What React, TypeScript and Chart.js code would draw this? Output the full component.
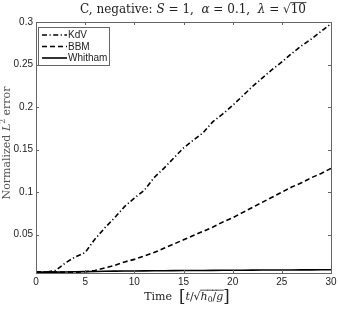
import React, { useEffect, useRef } from "react";
import { Chart, registerables } from "chart.js";

Chart.register(...registerables);

const T = [0, 1, 2, 3, 4, 5, 6, 7, 8, 9, 10, 11, 12, 13, 14, 15, 16, 17, 18, 19, 20, 21, 22, 23, 24, 25, 26, 27, 28, 29, 30];
const KDV = [0.006, 0.006, 0.008, 0.017, 0.024, 0.029, 0.045, 0.058, 0.07, 0.083, 0.093, 0.102, 0.117, 0.128, 0.14, 0.152, 0.161, 0.17, 0.183, 0.192, 0.202, 0.213, 0.224, 0.234, 0.244, 0.253, 0.263, 0.272, 0.28, 0.289, 0.298];
const BBM = [0.006, 0.006, 0.006, 0.006, 0.006, 0.0065, 0.008, 0.011, 0.014, 0.018, 0.021, 0.025, 0.029, 0.034, 0.039, 0.044, 0.049, 0.054, 0.059, 0.065, 0.07, 0.076, 0.082, 0.088, 0.094, 0.1, 0.106, 0.111, 0.117, 0.122, 0.128];
const WHITHAM = [0.006, 0.006, 0.006, 0.0062, 0.0064, 0.0066, 0.0068, 0.007, 0.0072, 0.0073, 0.0074, 0.0075, 0.0076, 0.0077, 0.0078, 0.0079, 0.008, 0.008, 0.0081, 0.0082, 0.0083, 0.0083, 0.0084, 0.0085, 0.0085, 0.0086, 0.0086, 0.0087, 0.0087, 0.0088, 0.0088];
const SERIES_LABELS = ["KdV", "BBM", "Whitham"];
const X_TICKS = [0, 5, 10, 15, 20, 25, 30];
const Y_TICKS = [0.05, 0.1, 0.15, 0.2, 0.25, 0.3];
const Y_TICK_LABELS = ["0.05", "0.1", "0.15", "0.2", "0.25", "0.3"];

type Seg = { t: string; it?: boolean; small?: boolean; dy?: number; over?: boolean; big?: boolean };

const SERIF = '"DejaVu Serif", serif';
const SANS = '"Liberation Sans", Arial, sans-serif';

function drawSegs(ctx: CanvasRenderingContext2D, segs: Seg[], cx: number, cy: number, size: number) {
  const fontFor = (s: Seg) => {
    const sz = s.small ? size * 0.7 : s.big ? size * 1.5 : size;
    return `${s.it ? "italic " : ""}${sz}px ${SERIF}`;
  };
  let total = 0;
  const widths = segs.map((s) => {
    ctx.font = fontFor(s);
    const w = ctx.measureText(s.t).width;
    total += w;
    return w;
  });
  let x = cx - total / 2;
  ctx.textBaseline = "middle";
  ctx.textAlign = "left";
  segs.forEach((s, i) => {
    ctx.font = fontFor(s);
    ctx.fillText(s.t, x, cy + (s.dy || 0));
    if (s.over) {
      ctx.save();
      ctx.lineWidth = 0.8;
      ctx.beginPath();
      ctx.moveTo(x - 0.5, cy - size * 0.62);
      ctx.lineTo(x + widths[i] + 0.5, cy - size * 0.62);
      ctx.stroke();
      ctx.restore();
    }
    x += widths[i];
  });
}

const decor = {
  id: "decor",
  afterDraw(chart: any) {
    const ctx: CanvasRenderingContext2D = chart.ctx;
    const a = chart.chartArea;
    const xs = chart.scales.x;
    const ys = chart.scales.y;
    ctx.save();
    ctx.strokeStyle = "#666";
    ctx.lineWidth = 1;
    ctx.strokeRect(Math.round(a.left) + 0.5, Math.round(a.top) + 0.5, Math.round(a.right - a.left), Math.round(a.bottom - a.top));
    const tl = 3;
    ctx.beginPath();
    X_TICKS.forEach((v) => {
      const px = Math.round(xs.getPixelForValue(v)) + 0.5;
      ctx.moveTo(px, a.bottom);
      ctx.lineTo(px, a.bottom - tl);
      ctx.moveTo(px, a.top);
      ctx.lineTo(px, a.top + tl);
    });
    Y_TICKS.forEach((v) => {
      const py = Math.round(ys.getPixelForValue(v)) + 0.5;
      ctx.moveTo(a.left, py);
      ctx.lineTo(a.left + tl, py);
      ctx.moveTo(a.right, py);
      ctx.lineTo(a.right - tl, py);
    });
    ctx.stroke();

    // legend
    const lx = 38.5, ly = 27.5, lw = 71, lh = 38;
    ctx.fillStyle = "#fff";
    ctx.fillRect(lx, ly, lw, lh);
    ctx.strokeStyle = "#666";
    ctx.strokeRect(lx, ly, lw, lh);
    const rows = [35, 46.5, 58];
    chart.data.datasets.forEach((ds: any, i: number) => {
      ctx.save();
      ctx.strokeStyle = ds.borderColor;
      ctx.lineWidth = ds.borderWidth;
      ctx.setLineDash(ds.borderDash || []);
      ctx.beginPath();
      ctx.moveTo(42, rows[i]);
      ctx.lineTo(67, rows[i]);
      ctx.stroke();
      ctx.restore();
      ctx.fillStyle = "#222";
      ctx.font = `10px ${SANS}`;
      ctx.textBaseline = "middle";
      ctx.textAlign = "left";
      ctx.fillText(ds.label, 68, rows[i] + 0.5);
    });

    // title
    ctx.fillStyle = "#222";
    ctx.strokeStyle = "#222";
    drawSegs(ctx, [
      { t: "C, negative: " },
      { t: "S", it: true },
      { t: " = 1,  " },
      { t: "α", it: true },
      { t: " = 0.1,  " },
      { t: "λ", it: true },
      { t: " = √" },
      { t: "10", over: true },
    ], 193, 10, 12);

    // x title
    drawSegs(ctx, [
      { t: "Time  " },
      { t: "[", big: true, dy: 1 },
      { t: "t", it: true },
      { t: "/" },
      { t: "√" },
      { t: "h", it: true, over: true },
      { t: "0", small: true, dy: 3, over: true },
      { t: "/", over: true },
      { t: "g", it: true, over: true },
      { t: "]", big: true, dy: 1 },
    ], 187, 297, 11);

    // y title
    ctx.save();
    ctx.translate(7, 143);
    ctx.rotate(-Math.PI / 2);
    ctx.fillStyle = "#555";
    drawSegs(ctx, [
      { t: "Normalized " },
      { t: "L", it: true },
      { t: "2", small: true, dy: -4 },
      { t: " error" },
    ], 0, 0, 11);
    ctx.restore();

    ctx.restore();
  },
};

export default function App() {
  const ref = useRef<HTMLCanvasElement>(null);
  useEffect(() => {
    document.body.style.margin = "0";
    const mk = (arr: number[]) => T.map((t, i) => ({ x: t, y: arr[i] }));
    const chart = new Chart(ref.current!, {
      type: "line",
      data: {
        datasets: [
          { label: SERIES_LABELS[0], data: mk(KDV), borderColor: "#000", borderWidth: 1.6, borderDash: [5, 2.5, 1.2, 2.5], pointRadius: 0, tension: 0 },
          { label: SERIES_LABELS[1], data: mk(BBM), borderColor: "#000", borderWidth: 1.6, borderDash: [5, 3], pointRadius: 0, tension: 0 },
          { label: SERIES_LABELS[2], data: mk(WHITHAM), borderColor: "#000", borderWidth: 1.6, pointRadius: 0, tension: 0 },
        ] as any,
      },
      options: {
        responsive: false,
        animation: false,
        devicePixelRatio: 1,
        layout: { padding: { top: 22, right: 9, left: 0, bottom: 0 } },
        plugins: { legend: { display: false }, tooltip: { enabled: false }, title: { display: false } },
        scales: {
          x: {
            type: "linear",
            min: 0,
            max: 30,
            grid: { display: false, drawTicks: false, tickLength: 0 },
            border: { display: false },
            ticks: { color: "#222", padding: 3, font: { size: 10, family: SANS }, maxRotation: 0 },
            afterBuildTicks: (s: any) => { s.ticks = X_TICKS.map((v) => ({ value: v })); },
            afterFit: (s: any) => { s.height = 37; },
          },
          y: {
            type: "linear",
            min: 0.005,
            max: 0.3,
            grid: { display: false, drawTicks: false, tickLength: 0 },
            border: { display: false },
            ticks: {
              color: "#222",
              padding: 3,
              font: { size: 10, family: SANS },
              callback: (v: number) => {
                const i = Y_TICKS.findIndex((y) => Math.abs(y - v) < 1e-9);
                return i >= 0 ? Y_TICK_LABELS[i] : "";
              },
            },
            afterBuildTicks: (s: any) => { s.ticks = Y_TICKS.map((v) => ({ value: v })); },
            afterFit: (s: any) => { s.width = 36; },
          },
        },
      } as any,
      plugins: [decor],
    });
    return () => chart.destroy();
  }, []);
  return <canvas ref={ref} width={340} height={310} style={{ display: "block" }} />;
}
